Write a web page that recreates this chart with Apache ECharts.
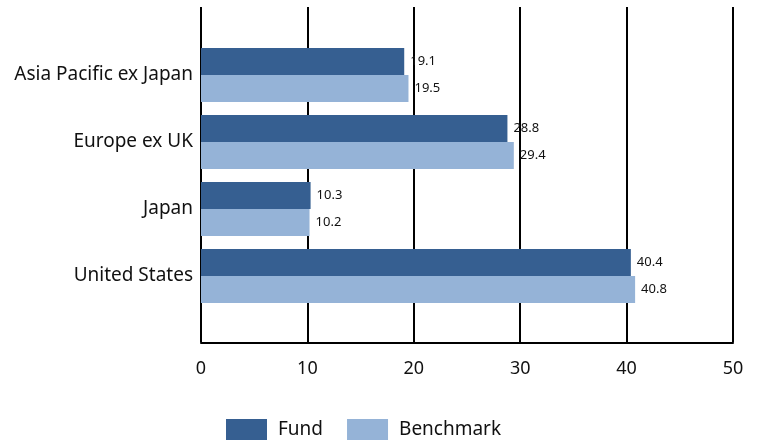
<!DOCTYPE html>
<html><head><meta charset="utf-8">
<script src="https://cdn.jsdelivr.net/npm/echarts@6/dist/echarts.min.js"></script>
<style>html,body{margin:0;padding:0;background:#fff}#c{width:761px;height:441px}</style>
</head><body><div id="c"></div>
<script>
var categories = ["Asia Pacific ex Japan", "Europe ex UK", "Japan", "United States"];
var fundValues = [19.1, 28.8, 10.3, 40.4];
var benchmarkValues = [19.5, 29.4, 10.2, 40.8];
var seriesNames = ["Fund", "Benchmark"];
var xTicks = [0, 10, 20, 30, 40, 50];

var font = "'Noto Sans', 'Open Sans', sans-serif";
var chart = echarts.init(document.getElementById('c'));
chart.setOption({
  animation: false,
  textStyle: {fontFamily: font},
  legend: {
    left: 221, top: 414,
    icon: 'rect',
    itemWidth: 41, itemHeight: 21, itemGap: 24,
    textStyle: {fontSize: 19, color: '#111', fontFamily: font, padding: [0, 0, 0, 6]},
    data: seriesNames
  },
  grid: [
    {left: 201, right: 28, top: 7, bottom: 98.5},
    {left: 201, right: 28, top: 41.5, bottom: 131.5}
  ],
  xAxis: [
    {gridIndex: 0, type: 'value', min: xTicks[0], max: xTicks[xTicks.length-1], interval: 10,
     axisLine: {show: true, lineStyle: {color: '#000', width: 2}},
     axisTick: {show: false},
     splitLine: {show: true, lineStyle: {color: '#000', width: 2}},
     axisLabel: {fontSize: 18, color: '#111', margin: 17, fontFamily: font}},
    {gridIndex: 1, type: 'value', min: xTicks[0], max: xTicks[xTicks.length-1], show: false}
  ],
  yAxis: [
    {gridIndex: 0, type: 'value', show: false},
    {gridIndex: 1, type: 'category', inverse: true, data: categories,
     axisLine: {show: false}, axisTick: {show: false},
     axisLabel: {fontSize: 19, color: '#111', margin: 8, fontFamily: font}}
  ],
  series: [
    {name: seriesNames[0], type: 'bar', xAxisIndex: 1, yAxisIndex: 1, data: fundValues,
     barWidth: 27, barGap: '0%', itemStyle: {color: '#365F91'},
     label: {show: true, position: 'right', distance: 6, fontSize: 13, color: '#111', fontFamily: font}},
    {name: seriesNames[1], type: 'bar', xAxisIndex: 1, yAxisIndex: 1, data: benchmarkValues,
     barWidth: 27, barGap: '0%', itemStyle: {color: '#95B3D7'},
     label: {show: true, position: 'right', distance: 6, fontSize: 13, color: '#111', fontFamily: font}}
  ]
});
</script></body></html>
